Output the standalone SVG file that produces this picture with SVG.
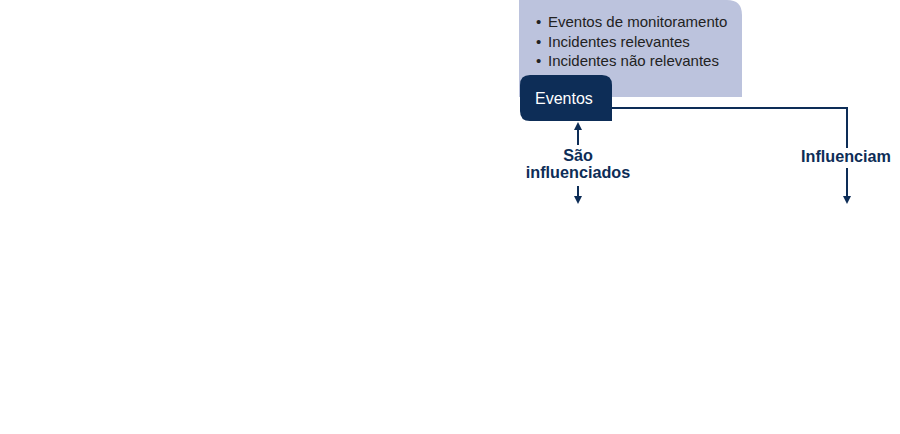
<svg xmlns="http://www.w3.org/2000/svg" width="900" height="434" viewBox="0 0 900 434">
<defs>
<style>
.list{font-family:"Liberation Sans",Arial,sans-serif;font-size:15px;fill:#222;}
.lbl{font-family:"Liberation Sans",Arial,sans-serif;font-size:16.2px;font-weight:bold;fill:#0d2d57;text-anchor:middle;}
.ln{stroke:#0d2d57;stroke-width:2;fill:none;}
</style>
<marker id="ah" markerWidth="8" markerHeight="8" refX="4" refY="4" orient="auto" markerUnits="userSpaceOnUse">
<path d="M0,0 L8,4 L0,8 Z" fill="#0d2d57"/>
</marker>
</defs>
<rect width="900" height="434" fill="#fff"/>
<g id="lista">
<path d="M519,0 H727 Q742,0 742,15 V97 H519 Z" fill="#bcc3dd"/>
<text class="list" x="536" y="27">•</text>
<text class="list" x="548" y="27">Eventos de monitoramento</text>
<text class="list" x="536" y="47">•</text>
<text class="list" x="548" y="47">Incidentes relevantes</text>
<text class="list" x="536" y="66">•</text>
<text class="list" x="548" y="66">Incidentes não relevantes</text>
</g>
<g id="eventos">
<path d="M530,75 H602 Q612,75 612,85 V121 H530 Q520,121 520,111 V85 Q520,75 530,75 Z" fill="#0d2d57"/>
<text x="535" y="104" style="font-family:'Liberation Sans',Arial,sans-serif;font-size:16px;fill:#fff">Eventos</text>
</g>
<g id="connectors">
<path class="ln" d="M612,108 H847 V148"/>
<path class="ln" d="M578,145 V126" marker-end="url(#ah)"/>
<path class="ln" d="M578,186 V200" marker-end="url(#ah)"/>
<path class="ln" d="M847,168 V200" marker-end="url(#ah)"/>
<text class="lbl" x="578" y="161">São</text>
<text class="lbl" x="578" y="178">influenciados</text>
<text class="lbl" x="846" y="162">Influenciam</text>
</g>
</svg>
